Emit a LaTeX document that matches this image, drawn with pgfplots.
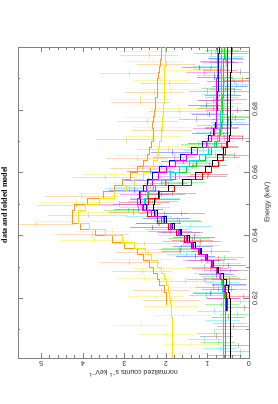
\documentclass[border=0pt]{standalone}
\usepackage{pgfplots}
\pgfplotsset{compat=1.18}
\usepackage{fontspec}
\setmainfont{Liberation Sans}
\newfontfamily\titlefont{Liberation Serif}
\definecolor{xorange}{RGB}{255,150,40}
\definecolor{xyellow}{RGB}{245,235,0}
\definecolor{xgreen}{RGB}{0,225,0}
\definecolor{xcyan}{RGB}{0,225,235}
\definecolor{xmag}{RGB}{255,0,255}
\pgfplotsset{
  dat/.style={draw=none, mark=none, error bars/.cd, x dir=both, x explicit, y dir=both, y fixed=0.0009,
    error mark=none, error bar style={line width=0.55pt, draw=#1, opacity=0.35}},
  mod/.style={const plot, color=#1, line width=0.5pt, mark=none},
}
\begin{document}
\begin{tikzpicture}
\useasboundingbox (-18pt,-46pt) rectangle (260pt,358pt);
\begin{axis}[
  at={(0pt,0pt)}, anchor=south west,
  scale only axis, width=231pt, height=311pt,
  x dir=reverse, xmin=0, xmax=5.56, ymin=0.601, ymax=0.700,
  xtick={0,1,2,3,4,5}, minor x tick num=4,
  ytick={0.62,0.64,0.66,0.68}, minor ytick={0.61,0.63,0.65,0.67,0.69},
  tick align=inside, major tick length=5pt, minor tick length=2.5pt,
  axis line style={black!50, line width=0.6pt},
  tick style={black!50, line width=0.5pt},
  /pgf/number format/assume math mode=true,
  every tick label/.append style={font=\fontsize{7}{8}\selectfont, text=black!85},
  label style={font=\fontsize{7}{8}\selectfont, text=black!85},
  xticklabel style={rotate=180, anchor=south},
  yticklabel pos=right,
  yticklabel style={rotate=90, anchor=north, /pgf/number format/fixed, /pgf/number format/precision=2, /pgf/number format/fixed zerofill},
  xlabel={normalized counts s\textsuperscript{−1} keV\textsuperscript{−1}},
  xlabel style={rotate=180, anchor=south, yshift=-3pt},
  ylabel={Energy (keV)},
  ylabel style={rotate=0, anchor=north},
]
% ---------------- data ----------------
\addplot[dat=black!70] table[x=c, y=E, x error=ex] {
E c ex
0.602 0.58 0.40
0.605 0.26 0.40
0.608 0.78 0.40
0.611 0.38 0.40
0.614 0.50 0.40
0.617 0.12 0.40
0.620 0.63 0.40
0.623 0.74 0.40
0.626 0.47 0.41
0.629 0.44 0.42
0.632 1.01 0.44
0.635 1.66 0.47
0.638 1.17 0.49
0.641 1.62 0.51
0.644 2.17 0.54
0.647 1.63 0.57
0.650 2.70 0.58
0.653 2.12 0.57
0.656 1.94 0.53
0.659 1.01 0.48
0.662 1.36 0.45
0.665 0.64 0.43
0.668 0.65 0.41
0.671 0.16 0.40
0.674 0.66 0.40
0.677 0.50 0.40
0.680 0.29 0.40
0.683 0.85 0.40
0.686 0.36 0.40
0.689 0.60 0.40
0.692 0.20 0.40
0.695 0.55 0.40
0.698 0.43 0.40
};
\addplot[dat=xgreen] table[x=c, y=E, x error=ex] {
E c ex
0.603 0.21 0.41
0.606 0.74 0.41
0.609 0.83 0.41
0.612 0.46 0.41
0.615 0.29 0.41
0.618 0.66 0.41
0.621 1.04 0.41
0.624 0.47 0.41
0.627 0.70 0.42
0.630 1.07 0.44
0.633 0.59 0.46
0.636 1.62 0.48
0.639 1.45 0.50
0.642 1.94 0.53
0.645 1.73 0.56
0.648 2.90 0.59
0.651 2.32 0.60
0.654 2.46 0.58
0.657 1.58 0.55
0.660 1.91 0.52
0.663 1.33 0.48
0.666 0.80 0.45
0.669 1.21 0.43
0.672 0.62 0.42
0.675 0.83 0.42
0.678 0.40 0.42
0.681 0.76 0.41
0.684 0.64 0.41
0.687 0.75 0.41
0.690 0.41 0.41
0.693 0.94 0.41
0.696 0.52 0.41
0.699 0.64 0.41
};
\addplot[dat=xcyan] table[x=c, y=E, x error=ex] {
E c ex
0.604 0.70 0.41
0.607 1.07 0.41
0.610 0.46 0.41
0.613 0.62 0.41
0.616 0.83 0.41
0.619 0.21 0.41
0.622 0.92 0.41
0.625 0.63 0.42
0.628 0.89 0.43
0.631 0.63 0.44
0.634 1.52 0.46
0.637 1.19 0.48
0.640 1.66 0.51
0.643 1.41 0.53
0.646 2.42 0.56
0.649 2.51 0.60
0.652 2.25 0.60
0.655 2.88 0.58
0.658 1.89 0.55
0.661 1.89 0.52
0.664 1.02 0.48
0.667 1.11 0.45
0.670 0.80 0.43
0.673 0.85 0.42
0.676 0.49 0.42
0.679 1.01 0.42
0.682 0.59 0.42
0.685 0.71 0.42
0.688 0.30 0.42
0.691 0.83 0.42
0.694 0.92 0.42
0.697 0.55 0.42
};
\addplot[dat=red] table[x=c, y=E, x error=ex] {
E c ex
0.6205 0.14 0.40
0.6235 0.86 0.41
0.6265 0.63 0.42
0.6295 0.93 0.43
0.6325 0.74 0.45
0.6355 1.69 0.48
0.6385 1.36 0.50
0.6415 1.90 0.53
0.6445 1.69 0.56
0.6475 2.78 0.60
0.6505 2.51 0.60
0.6535 1.84 0.56
0.6565 2.00 0.50
0.6595 0.97 0.46
0.6625 0.95 0.43
0.6655 0.36 0.41
0.6685 0.66 0.40
0.6715 0.53 0.40
0.6745 0.65 0.40
0.6775 0.33 0.40
0.6805 0.85 0.40
0.6835 0.45 0.40
0.6865 0.57 0.40
0.6895 0.17 0.40
0.6925 0.69 0.40
0.6955 0.77 0.40
0.6985 0.41 0.40
};
\addplot[dat=blue] table[x=c, y=E, x error=ex] {
E c ex
0.6215 0.94 0.41
0.6245 0.48 0.41
0.6275 0.78 0.42
0.6305 0.50 0.43
0.6335 1.29 0.46
0.6365 1.34 0.48
0.6395 1.32 0.50
0.6425 2.33 0.53
0.6455 1.99 0.56
0.6485 2.66 0.59
0.6515 2.26 0.61
0.6545 2.75 0.61
0.6575 2.42 0.59
0.6605 2.37 0.57
0.6635 1.58 0.54
0.6665 1.85 0.50
0.6695 1.00 0.46
0.6725 0.93 0.44
0.6755 0.43 0.43
0.6785 0.95 0.43
0.6815 1.03 0.43
0.6845 0.63 0.43
0.6875 0.45 0.43
0.6905 0.83 0.42
0.6935 1.20 0.42
0.6965 0.56 0.42
};
\addplot[dat=xmag] table[x=c, y=E, x error=ex] {
E c ex
0.620 0.61 0.41
0.623 0.43 0.41
0.626 1.08 0.42
0.629 0.69 0.43
0.632 1.14 0.45
0.635 0.92 0.47
0.638 1.59 0.49
0.641 1.70 0.52
0.644 2.18 0.55
0.647 2.05 0.59
0.650 3.13 0.61
0.653 2.50 0.61
0.656 2.46 0.59
0.659 1.67 0.57
0.662 2.11 0.54
0.665 1.80 0.50
0.668 0.99 0.46
0.671 0.59 0.44
0.674 0.91 0.43
0.677 1.26 0.43
0.680 0.61 0.43
0.683 0.78 0.43
0.686 1.00 0.43
0.689 0.35 0.43
0.692 1.08 0.43
0.695 0.73 0.43
0.698 0.90 0.43
};
\addplot[dat=xorange] table[x=c, y=E, x error=ex] {
E c ex
0.6195 1.86 0.69
0.6225 2.10 0.69
0.6255 1.53 0.71
0.6285 2.57 0.72
0.6315 2.87 0.74
0.6345 2.43 0.77
0.6375 2.51 0.82
0.6405 3.78 0.88
0.6435 5.13 0.94
0.6465 3.87 0.96
0.6495 4.15 0.95
0.6525 4.04 0.88
0.6555 2.37 0.83
0.6585 3.46 0.80
0.6615 2.58 0.77
0.6645 2.70 0.75
0.6675 1.95 0.74
0.6705 2.96 0.73
0.6735 2.09 0.73
0.6765 2.45 0.73
0.6795 1.69 0.72
0.6825 2.61 0.72
0.6855 2.27 0.71
0.6885 1.92 0.71
0.6915 2.88 0.71
0.6945 1.99 0.71
0.6975 2.40 0.70
};
\addplot[dat=xyellow] table[x=c, y=E, x error=ex] {
E c ex
0.6025 1.65 0.67
0.6055 1.38 0.67
0.6085 1.98 0.67
0.6115 2.59 0.67
0.6145 1.59 0.67
0.6175 1.88 0.68
0.6205 2.25 0.68
0.6235 1.27 0.69
0.6265 2.52 0.69
0.6295 2.07 0.71
0.6325 2.53 0.73
0.6355 2.10 0.76
0.6385 3.73 0.81
0.6415 3.29 0.88
0.6445 4.22 0.93
0.6475 3.35 0.94
0.6505 4.15 0.89
0.6535 3.26 0.83
0.6565 2.48 0.79
0.6595 3.25 0.75
0.6625 2.17 0.73
0.6655 2.50 0.72
0.6685 1.73 0.71
0.6715 2.33 0.70
0.6745 2.10 0.70
0.6775 2.29 0.70
0.6805 1.71 0.70
0.6835 2.61 0.70
0.6865 1.90 0.69
0.6895 2.11 0.69
0.6925 1.41 0.69
0.6955 2.30 0.69
0.6985 2.43 0.69
};
% ---------------- models ----------------
\addplot[mod=black] coordinates {
(0.46,0.600)(0.46,0.602)(0.46,0.604)(0.46,0.606)(0.46,0.608)(0.46,0.610)(0.46,0.612)(0.46,0.614)(0.46,0.616)(0.46,0.618)(0.46,0.620)
(0.47,0.622)(0.50,0.624)(0.55,0.626)(0.63,0.628)(0.73,0.630)(0.85,0.632)(1.00,0.634)(1.15,0.636)(1.30,0.638)(1.45,0.640)
(1.62,0.642)(1.80,0.644)(2.00,0.646)(2.20,0.648)(2.30,0.650)(2.28,0.652)(2.18,0.654)(1.95,0.656)(1.60,0.658)(1.30,0.660)
(1.05,0.662)(0.88,0.664)(0.77,0.666)(0.62,0.668)(0.53,0.670)(0.48,0.672)(0.46,0.674)(0.46,0.676)(0.46,0.678)(0.45,0.680)
(0.45,0.682)(0.45,0.684)(0.44,0.686)(0.44,0.688)(0.44,0.690)(0.44,0.692)(0.43,0.694)(0.43,0.696)(0.43,0.698)(0.43,0.700)
};
\addplot[mod=xgreen] coordinates {
(0.58,0.600)(0.58,0.602)(0.58,0.604)(0.58,0.606)(0.58,0.608)(0.58,0.610)(0.58,0.612)(0.58,0.614)(0.58,0.616)(0.58,0.618)(0.58,0.620)
(0.59,0.622)(0.61,0.624)(0.65,0.626)(0.70,0.628)(0.79,0.630)(0.90,0.632)(1.05,0.634)(1.20,0.636)(1.35,0.638)(1.50,0.640)
(1.68,0.642)(1.87,0.644)(2.07,0.646)(2.28,0.648)(2.46,0.650)(2.50,0.652)(2.42,0.654)(2.25,0.656)(2.02,0.658)(1.78,0.660)
(1.52,0.662)(1.28,0.664)(1.06,0.666)(0.90,0.668)(0.78,0.670)(0.71,0.672)(0.68,0.674)(0.66,0.676)(0.65,0.678)(0.65,0.680)
(0.64,0.682)(0.64,0.684)(0.63,0.686)(0.63,0.688)(0.62,0.690)(0.62,0.692)(0.61,0.694)(0.61,0.696)(0.60,0.698)(0.60,0.700)
};
\addplot[mod=xcyan] coordinates {
(0.62,0.600)(0.62,0.602)(0.62,0.604)(0.62,0.606)(0.62,0.608)(0.62,0.610)(0.62,0.612)(0.62,0.614)(0.62,0.616)(0.62,0.618)(0.62,0.620)
(0.63,0.622)(0.64,0.624)(0.67,0.626)(0.72,0.628)(0.80,0.630)(0.90,0.632)(1.04,0.634)(1.19,0.636)(1.33,0.638)(1.48,0.640)
(1.65,0.642)(1.84,0.644)(2.04,0.646)(2.25,0.648)(2.45,0.650)(2.52,0.652)(2.45,0.654)(2.30,0.656)(2.10,0.658)(1.90,0.660)
(1.68,0.662)(1.43,0.664)(1.20,0.666)(0.98,0.668)(0.84,0.670)(0.76,0.672)(0.72,0.674)(0.70,0.676)(0.69,0.678)(0.68,0.680)
(0.67,0.682)(0.67,0.684)(0.67,0.686)(0.67,0.688)(0.67,0.690)(0.67,0.692)(0.67,0.694)(0.67,0.696)(0.67,0.698)(0.67,0.700)
};
\addplot[mod=red] coordinates {
(0.53,0.616)(0.53,0.618)(0.53,0.620)
(0.54,0.622)(0.57,0.624)(0.62,0.626)(0.69,0.628)(0.78,0.630)(0.90,0.632)(1.05,0.634)(1.22,0.636)(1.38,0.638)(1.55,0.640)
(1.74,0.642)(1.95,0.644)(2.20,0.646)(2.45,0.648)(2.55,0.650)(2.42,0.652)(2.15,0.654)(1.80,0.656)(1.40,0.658)(1.12,0.660)
(0.90,0.662)(0.74,0.664)(0.62,0.666)(0.56,0.668)(0.54,0.670)(0.53,0.672)(0.53,0.674)(0.53,0.676)(0.53,0.678)(0.53,0.680)
(0.53,0.682)(0.53,0.684)(0.53,0.686)(0.53,0.688)(0.53,0.690)(0.53,0.692)(0.53,0.694)(0.53,0.696)(0.53,0.698)(0.53,0.700)
};
\addplot[mod=blue] coordinates {
(0.55,0.616)(0.55,0.618)(0.55,0.620)
(0.56,0.622)(0.58,0.624)(0.62,0.626)(0.68,0.628)(0.76,0.630)(0.87,0.632)(1.02,0.634)(1.18,0.636)(1.33,0.638)(1.48,0.640)
(1.66,0.642)(1.85,0.644)(2.05,0.646)(2.27,0.648)(2.48,0.650)(2.62,0.652)(2.65,0.654)(2.55,0.656)(2.45,0.658)(2.32,0.660)
(2.15,0.662)(1.92,0.664)(1.65,0.666)(1.38,0.668)(1.13,0.670)(0.97,0.672)(0.87,0.674)(0.82,0.676)(0.80,0.678)(0.78,0.680)
(0.77,0.682)(0.77,0.684)(0.76,0.686)(0.75,0.688)(0.75,0.690)(0.74,0.692)(0.74,0.694)(0.73,0.696)(0.73,0.698)(0.72,0.700)
};
\addplot[mod=xmag] coordinates {
(0.56,0.616)(0.56,0.618)(0.56,0.620)
(0.57,0.622)(0.59,0.624)(0.63,0.626)(0.69,0.628)(0.78,0.630)(0.89,0.632)(1.04,0.634)(1.20,0.636)(1.36,0.638)(1.52,0.640)
(1.70,0.642)(1.90,0.644)(2.12,0.646)(2.35,0.648)(2.58,0.650)(2.70,0.652)(2.62,0.654)(2.48,0.656)(2.33,0.658)(2.18,0.660)
(2.00,0.662)(1.78,0.664)(1.50,0.666)(1.24,0.668)(1.02,0.670)(0.90,0.672)(0.83,0.674)(0.80,0.676)(0.79,0.678)(0.78,0.680)
(0.78,0.682)(0.78,0.684)(0.78,0.686)(0.78,0.688)(0.78,0.690)(0.77,0.692)(0.77,0.694)(0.77,0.696)(0.77,0.698)(0.77,0.700)
};
\addplot[mod=xorange] coordinates {
(2.00,0.618)(2.00,0.620)
(2.00,0.622)(2.05,0.624)(2.15,0.626)(2.22,0.628)(2.30,0.630)(2.40,0.632)(2.55,0.634)(2.70,0.636)(3.00,0.638)(3.30,0.640)
(3.70,0.642)(4.05,0.644)(4.25,0.646)(4.25,0.648)(4.20,0.650)(3.90,0.652)(3.50,0.654)(3.25,0.656)(3.05,0.658)(2.85,0.660)
(2.70,0.662)(2.55,0.664)(2.45,0.666)(2.40,0.668)(2.35,0.670)(2.30,0.672)(2.30,0.674)(2.32,0.676)(2.30,0.678)(2.28,0.680)
(2.25,0.682)(2.25,0.684)(2.20,0.686)(2.22,0.688)(2.20,0.690)(2.18,0.692)(2.15,0.694)(2.13,0.696)(2.12,0.698)(2.10,0.700)
};
\addplot[mod=xyellow] coordinates {
(1.85,0.600)(1.85,0.602)(1.85,0.604)(1.85,0.606)(1.85,0.608)(1.85,0.610)(1.85,0.612)(1.85,0.614)(1.87,0.616)(1.88,0.618)(1.90,0.620)
(1.92,0.622)(1.95,0.624)(2.00,0.626)(2.05,0.628)(2.12,0.630)(2.20,0.632)(2.35,0.634)(2.50,0.636)(2.75,0.638)(3.05,0.640)
(3.45,0.642)(3.85,0.644)(4.10,0.646)(4.10,0.648)(3.95,0.650)(3.60,0.652)(3.25,0.654)(2.95,0.656)(2.75,0.658)(2.55,0.660)
(2.40,0.662)(2.30,0.664)(2.22,0.666)(2.18,0.668)(2.15,0.670)(2.12,0.672)(2.10,0.674)(2.09,0.676)(2.08,0.678)(2.07,0.680)
(2.06,0.682)(2.05,0.684)(2.05,0.686)(2.04,0.688)(2.04,0.690)(2.03,0.692)(2.03,0.694)(2.02,0.696)(2.02,0.698)(2.02,0.700)
};
\end{axis}
\node[rotate=90, font=\titlefont\bfseries\fontsize{8}{9}\selectfont] at (-14pt,153pt) {data and folded model};
\end{tikzpicture}
\end{document}
